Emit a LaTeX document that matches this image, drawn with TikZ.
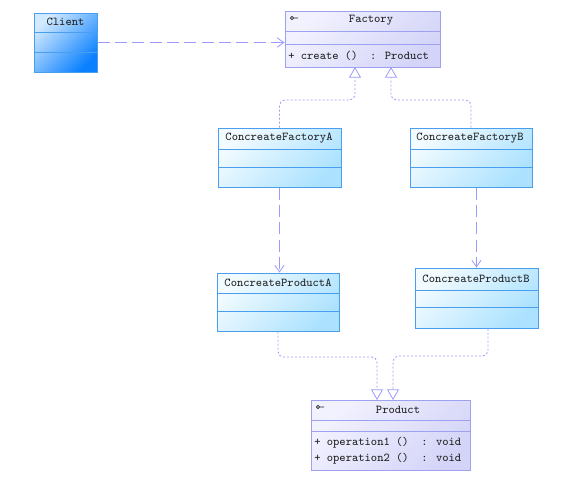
\documentclass[tikz,border=0pt]{standalone}
\usepackage{fontspec}
\usetikzlibrary{arrows.meta,fit}
\definecolor{lavB}{HTML}{A0A0F0}
\definecolor{lavL}{HTML}{F2F2FF}
\definecolor{lavR}{HTML}{D4D4F8}
\definecolor{cBord}{HTML}{4A9EF0}
\definecolor{cL}{HTML}{F2FBFF}
\definecolor{cR}{HTML}{ACE2FF}
\definecolor{clL}{HTML}{D2EAFF}
\definecolor{clR}{HTML}{0A80FF}
\definecolor{lnC}{HTML}{9A9AFF}
\definecolor{txtC}{HTML}{202020}
\begin{document}
\begin{tikzpicture}[x=0.75pt,y=-0.75pt,
  cls/.style={inner sep=0pt, line width=0.75pt},
  absbox/.style={cls, draw=lavB, left color=lavL, right color=lavR, shading angle=45},
  concbox/.style={cls, draw=cBord, left color=cL, right color=cR, shading angle=45},
  clientbox/.style={cls, draw=cBord, left color=clL, right color=clR, shading angle=45},
  divabs/.style={draw=lavB, line width=0.75pt},
  divconc/.style={draw=cBord, line width=0.75pt},
  txt/.style={font=\ttfamily\fontsize{9}{10}\selectfont, text=txtC, inner sep=0pt},
  real/.style={draw=lnC, line width=0.6pt, dash pattern=on 1.5pt off 1.5pt, rounded corners=4pt,
     -{Triangle[open,length=8pt,width=9pt,fill=white]}},
  dep/.style={draw=lnC, line width=0.6pt, dash pattern=on 9pt off 4pt,
     -{Straight Barb[length=5pt,width=7pt]}}]
\useasboundingbox (0,0) rectangle (565,480);

% Client
\node[clientbox, fit={(34,13) (97,72)}] (client) {};
\draw[divconc] (client.west |- 0,32) -- (client.east |- 0,32);
\draw[divconc] (client.west |- 0,52) -- (client.east |- 0,52);
\node[txt] (clientT) at (65.5,22) {Client};

% Factory
\node[absbox, fit={(285,11) (440,67)}] (factory) {};
\draw[divabs] (factory.west |- 0,31) -- (factory.east |- 0,31);
\draw[divabs] (factory.west |- 0,44) -- (factory.east |- 0,44);
\draw[txtC, line width=0.5pt] (292,18) circle (1.6) (293.6,18) -- (298,18);
\node[txt] (factoryT) at (371,20) {Factory};
\node[txt, anchor=west] (factoryOp) at (288,55.5) {+ create ()~~: Product};

% Concrete factories
\node[concbox, fit={(218,128) (341,187)}] (cfa) {};
\draw[divconc] (cfa.west |- 0,149) -- (cfa.east |- 0,149);
\draw[divconc] (cfa.west |- 0,167) -- (cfa.east |- 0,167);
\node[txt] (cfaT) at (279,138.5) {ConcreateFactoryA};

\node[concbox, fit={(410,128) (532,187)}] (cfb) {};
\draw[divconc] (cfb.west |- 0,149) -- (cfb.east |- 0,149);
\draw[divconc] (cfb.west |- 0,167) -- (cfb.east |- 0,167);
\node[txt] (cfbT) at (470,138.5) {ConcreateFactoryB};

% Concrete products
\node[concbox, fit={(217,273) (339,331)}] (cpa) {};
\draw[divconc] (cpa.west |- 0,293) -- (cpa.east |- 0,293);
\draw[divconc] (cpa.west |- 0,311) -- (cpa.east |- 0,311);
\node[txt] (cpaT) at (278,283) {ConcreateProductA};

\node[concbox, fit={(415,268) (538,328)}] (cpb) {};
\draw[divconc] (cpb.west |- 0,290) -- (cpb.east |- 0,290);
\draw[divconc] (cpb.west |- 0,307) -- (cpb.east |- 0,307);
\node[txt] (cpbT) at (476,279) {ConcreateProductB};

% Product
\node[absbox, fit={(311,400) (470,470)}] (product) {};
\draw[divabs] (product.west |- 0,420) -- (product.east |- 0,420);
\draw[divabs] (product.west |- 0,431) -- (product.east |- 0,431);
\draw[txtC, line width=0.5pt] (318,407) circle (1.6) (319.6,407) -- (324,407);
\node[txt] (productT) at (398,409.5) {Product};
\node[txt, anchor=west] (productOp1) at (314,443) {+ operation1 ()~~: void};
\node[txt, anchor=west] (productOp2) at (314,459) {+ operation2 ()~~: void};

% connector ends
\coordinate (fA) at (355,67);
\coordinate (fB) at (391,67);
\coordinate (pA) at (377,400);
\coordinate (pB) at (393,400);

% dependencies
\draw[dep] (client.east) -- (client.east -| factory.west);
\draw[dep] (cfa.south) -- (cfa.south |- cpa.north);
\draw[dep] (cfb.south -| cpb.north) -- (cpb.north);

% realizations
\draw[real] (cfa.north) |- (355,100) -- (fA);
\draw[real] (cfb.north) |- (391,100) -- (fB);
\draw[real] (cpa.south) |- (377,357) -- (pA);
\draw[real] (cpb.south -| 488,0) |- (393,356) -- (pB);
\end{tikzpicture}
\end{document}
